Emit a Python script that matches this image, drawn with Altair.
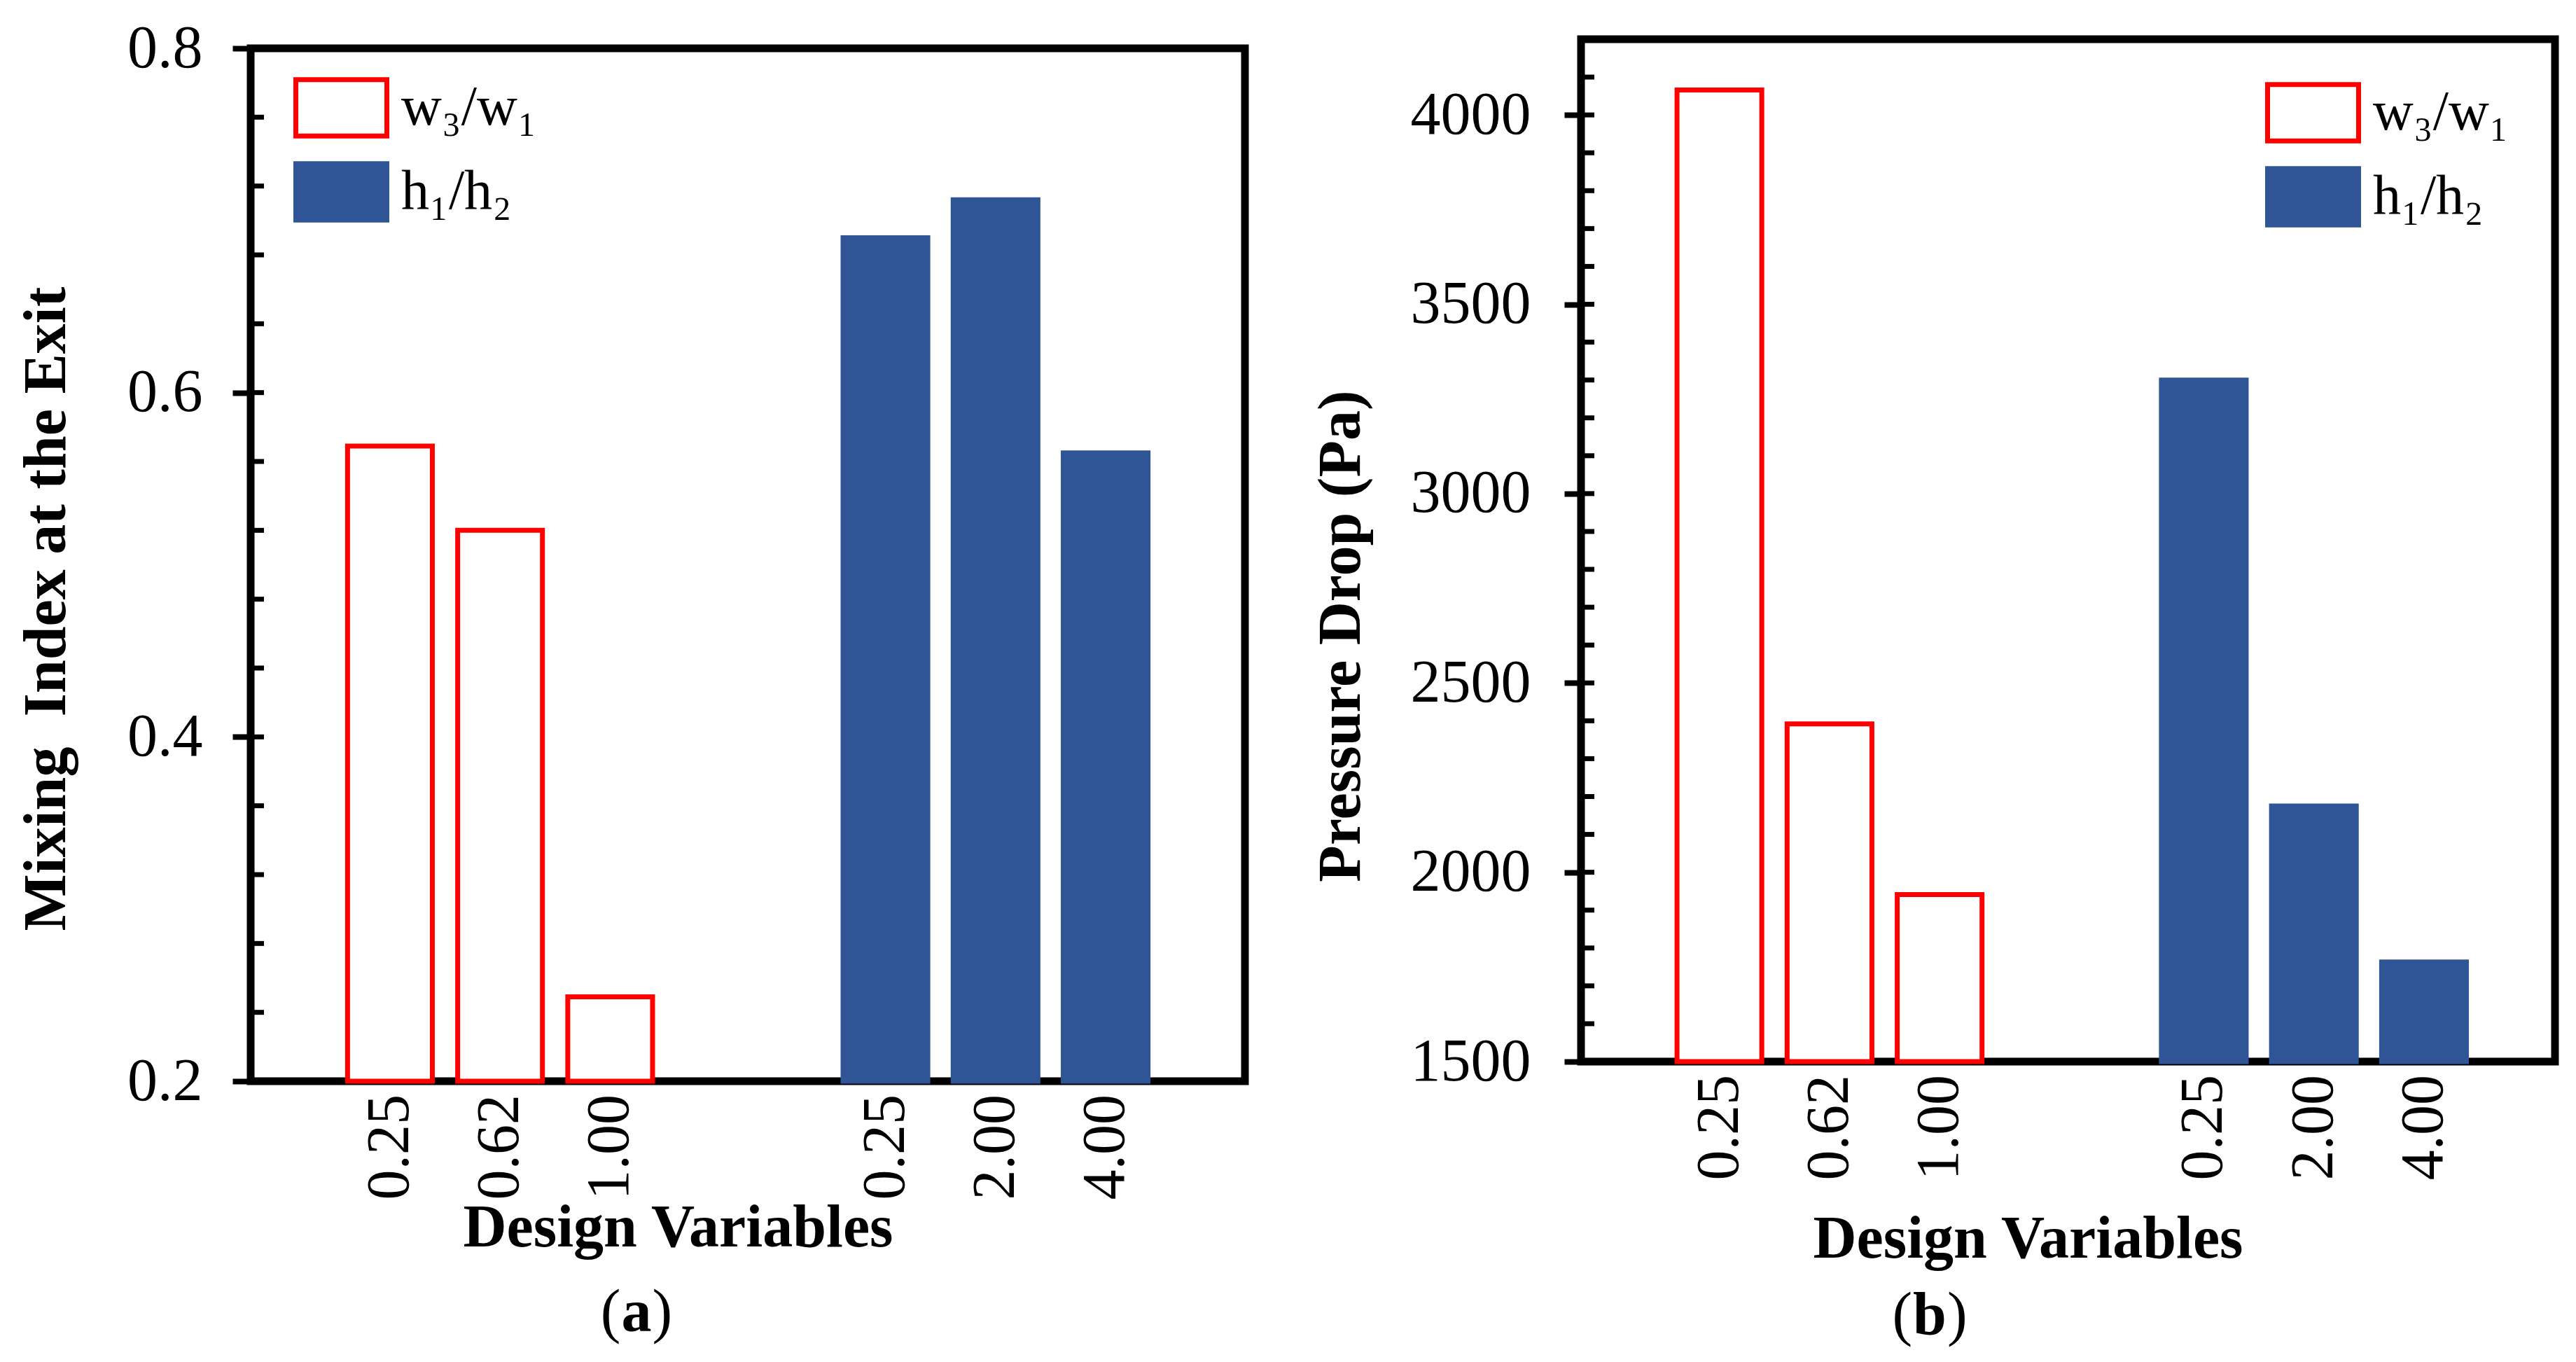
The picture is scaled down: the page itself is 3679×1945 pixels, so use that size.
import altair as alt
import pandas as pd

FONT = "Liberation Serif"
BLUE = "#2F5597"
RED = "#FF0000"

# ---- data ----
series = ["w₃/w₁", "h₁/h₂"]
w_labels = ["0.25", "0.62", "1.00"]
h_labels = ["0.25", "2.00", "4.00"]

mix_w = [0.569, 0.520, 0.249]
mix_h = [0.690, 0.712, 0.565]

dp_w = [4066, 2392, 1941]
dp_h = [3300, 2175, 1763]

mix_major = [0.2, 0.4, 0.6, 0.8]
mix_minor = [0.24, 0.28, 0.32, 0.36, 0.44, 0.48, 0.52, 0.56, 0.64, 0.68, 0.72, 0.76]
dp_major = [1500, 2000, 2500, 3000, 3500, 4000]
dp_minor = [1600, 1700, 1800, 1900, 2100, 2200, 2300, 2400, 2600, 2700, 2800, 2900,
            3100, 3200, 3300, 3400, 3600, 3700, 3800, 3900, 4100]

LABEL_SIZE = 86
TITLE_SIZE = 86


def panel_tag(letter, half, x, y):
    # "(" and ")" in regular weight, the letter in bold, as in the reference
    base = dict(font=FONT, fontSize=TITLE_SIZE, baseline="alphabetic", color="black")
    d = pd.DataFrame({"t": [letter], "o": ["("], "c": [")"]})
    mid = alt.Chart(d).mark_text(fontWeight="bold", align="center", **base).encode(
        x=alt.value(x), y=alt.value(y), text="t:N")
    left = alt.Chart(d).mark_text(align="right", **base).encode(
        x=alt.value(x - half * TITLE_SIZE - 1), y=alt.value(y), text="o:N")
    right = alt.Chart(d).mark_text(align="left", **base).encode(
        x=alt.value(x + half * TITLE_SIZE + 1), y=alt.value(y), text="c:N")
    return [left, mid, right]


def panel(vals_w, vals_h, domain, major, minor, fmt, ytitle, tag, W, H, lay):
    df = pd.DataFrame({
        "series": [series[0]] * 3 + [series[1]] * 3,
        "idx": [0, 1, 2, 0, 1, 2],
        "label": w_labels + h_labels,
        "value": vals_w + vals_h,
    })
    xscale = alt.Scale(domain=series, paddingInner=1 / 3, paddingOuter=lay["po"])
    xoff = alt.XOffset("idx:O", scale=alt.Scale(paddingInner=0.23, paddingOuter=0.115))
    legend = alt.Legend(
        title=None, orient="none", legendX=lay["lx"], legendY=lay["ly"],
        symbolType="M-1,-0.62H1V0.62H-1Z", symbolSize=16900, symbolStrokeWidth=7,
        clipHeight=90, rowPadding=30, labelOffset=17, padding=0,
        labelFont=FONT, labelFontSize=80, labelColor="black", labelLimit=600,
    )
    yscale = alt.Scale(domain=domain, zero=False, nice=False)
    bars = alt.Chart(df).mark_bar(strokeWidth=7).encode(
        x=alt.X("series:N", scale=xscale, sort=series,
                axis=alt.Axis(labels=False, ticks=False, domain=False, grid=False,
                              title="Design Variables", titleFont=FONT, titleFontSize=TITLE_SIZE,
                              titleFontWeight="bold", titleColor="black",
                              titleX=lay["xtx"], titleY=lay["xty"],
                              titleBaseline="alphabetic", titleAlign="center")),
        xOffset=xoff,
        y=alt.Y("value:Q", scale=yscale,
                axis=alt.Axis(values=major, format=fmt, title=ytitle, grid=False, domain=False,
                              tickSize=lay["ts"], tickWidth=8, tickColor="black",
                              labelPadding=lay["lp"], labelFont=FONT, labelFontSize=LABEL_SIZE,
                              labelColor="black", titleFont=FONT, titleFontSize=TITLE_SIZE,
                              titleFontWeight="bold", titleColor="black",
                              titleX=lay["ytx"], titleY=lay["yty"], titleAngle=270,
                              titleBaseline="alphabetic", titleAlign="center")),
        y2=alt.datum(domain[0]),
        fill=alt.Fill("series:N", scale=alt.Scale(domain=series, range=["white", BLUE]), legend=legend),
        stroke=alt.Stroke("series:N", scale=alt.Scale(domain=series, range=[RED, BLUE]), legend=legend),
    )
    labels = alt.Chart(df).mark_text(
        angle=270, align="right", baseline="middle", font=FONT, fontSize=LABEL_SIZE, color="black"
    ).encode(
        x=alt.X("series:N", scale=xscale, sort=series),
        xOffset=xoff,
        y=alt.value(H + 19),
        text="label:N",
    )
    ticks = alt.Chart(pd.DataFrame({"v": major + minor})).mark_rule(
        color="black", strokeWidth=7
    ).encode(
        y=alt.Y("v:Q", scale=yscale),
        x=alt.value(0),
        x2=alt.value(19),
    )
    tags = panel_tag(tag, lay["th"], lay["tx"], lay["ty"])
    return alt.layer(bars, labels, ticks, *tags).properties(width=W, height=H)


def spacer():
    # empty 1x1 view used only to offset the panels vertically
    return alt.Chart(pd.DataFrame({"s": [""]})).mark_text().encode(
        text="s:N"
    ).properties(width=1, height=1,
                 view=alt.ViewBackground(strokeWidth=0, stroke="transparent"))


def column(p, gap):
    return alt.vconcat(spacer(), p, spacing=gap).resolve_scale(
        fill="independent", stroke="independent"
    ).resolve_legend(fill="independent", stroke="independent")


pa = panel(mix_w, mix_h, [0.2, 0.8], mix_major, mix_minor, ".1f",
           "Mixing\u00a0 Index at the Exit", "a", 1420, 1475,
           dict(po=0.17, lx=61, ly=40, xtx=610, xty=235, ts=26, lp=43, ytx=-266, yty=800,
                tx=551, ty=1832, th=0.25))
pb = panel(dp_w, dp_h, [1500, 4200], dp_major, dp_minor, "d",
           "Pressure Drop (Pa)", "b", 1391, 1460,
           dict(po=0.172, lx=977, ly=60, xtx=638, xty=279, ts=24, lp=48, ytx=-317, yty=852,
                tx=498, ty=1849, th=0.278))

chart = alt.hconcat(column(pa, 0), column(pb, 30), spacing=82).resolve_scale(
    fill="independent", stroke="independent"
).resolve_legend(
    fill="independent", stroke="independent"
).properties(
    padding={"left": 9, "top": 0, "right": 0, "bottom": 0},
    background="white",
).configure_view(stroke="black", strokeWidth=11)

chart.save("out.html", embed_options={"renderer": "svg", "actions": False})
